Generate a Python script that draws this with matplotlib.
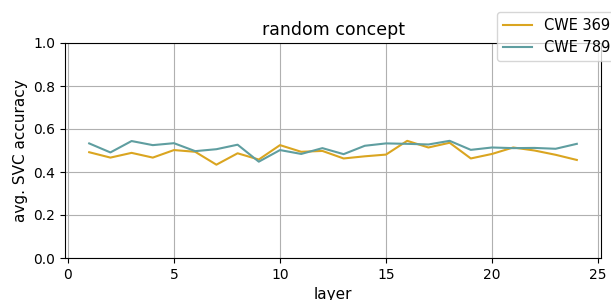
import matplotlib.pyplot as plt

# layer-wise accuracy values
layers = list(range(1, 25))
cwe_369 = [0.492, 0.467, 0.489, 0.467, 0.502, 0.494, 0.434, 0.487, 0.458, 0.525, 0.494, 0.498,
           0.463, 0.473, 0.481, 0.545, 0.514, 0.536, 0.463, 0.484, 0.514, 0.500, 0.480, 0.456]
cwe_789 = [0.533, 0.491, 0.544, 0.525, 0.534, 0.497, 0.506, 0.527, 0.448, 0.502, 0.484, 0.511,
           0.483, 0.522, 0.533, 0.531, 0.528, 0.545, 0.503, 0.514, 0.511, 0.512, 0.508, 0.531]

fig = plt.figure(figsize=(6.11, 3.0), dpi=100)
ax = fig.add_axes([64.8 / 611, 1 - 258 / 300, (601.2 - 64.8) / 611, (258 - 43) / 300])

ax.plot(layers, cwe_369, color='goldenrod', label='CWE 369')
ax.plot(layers, cwe_789, color='cadetblue', label='CWE 789')

ax.set_ylim(0, 1.0)
ax.set_title('random concept', fontsize=12.5)
ax.set_xlabel('layer', fontsize=11)
ax.set_ylabel('avg. SVC accuracy', fontsize=11)
ax.grid(True)

fig.legend(loc='upper left', bbox_to_anchor=(490 / 611, 1 - 5 / 300), fontsize=10.5)

plt.savefig('out.png')
